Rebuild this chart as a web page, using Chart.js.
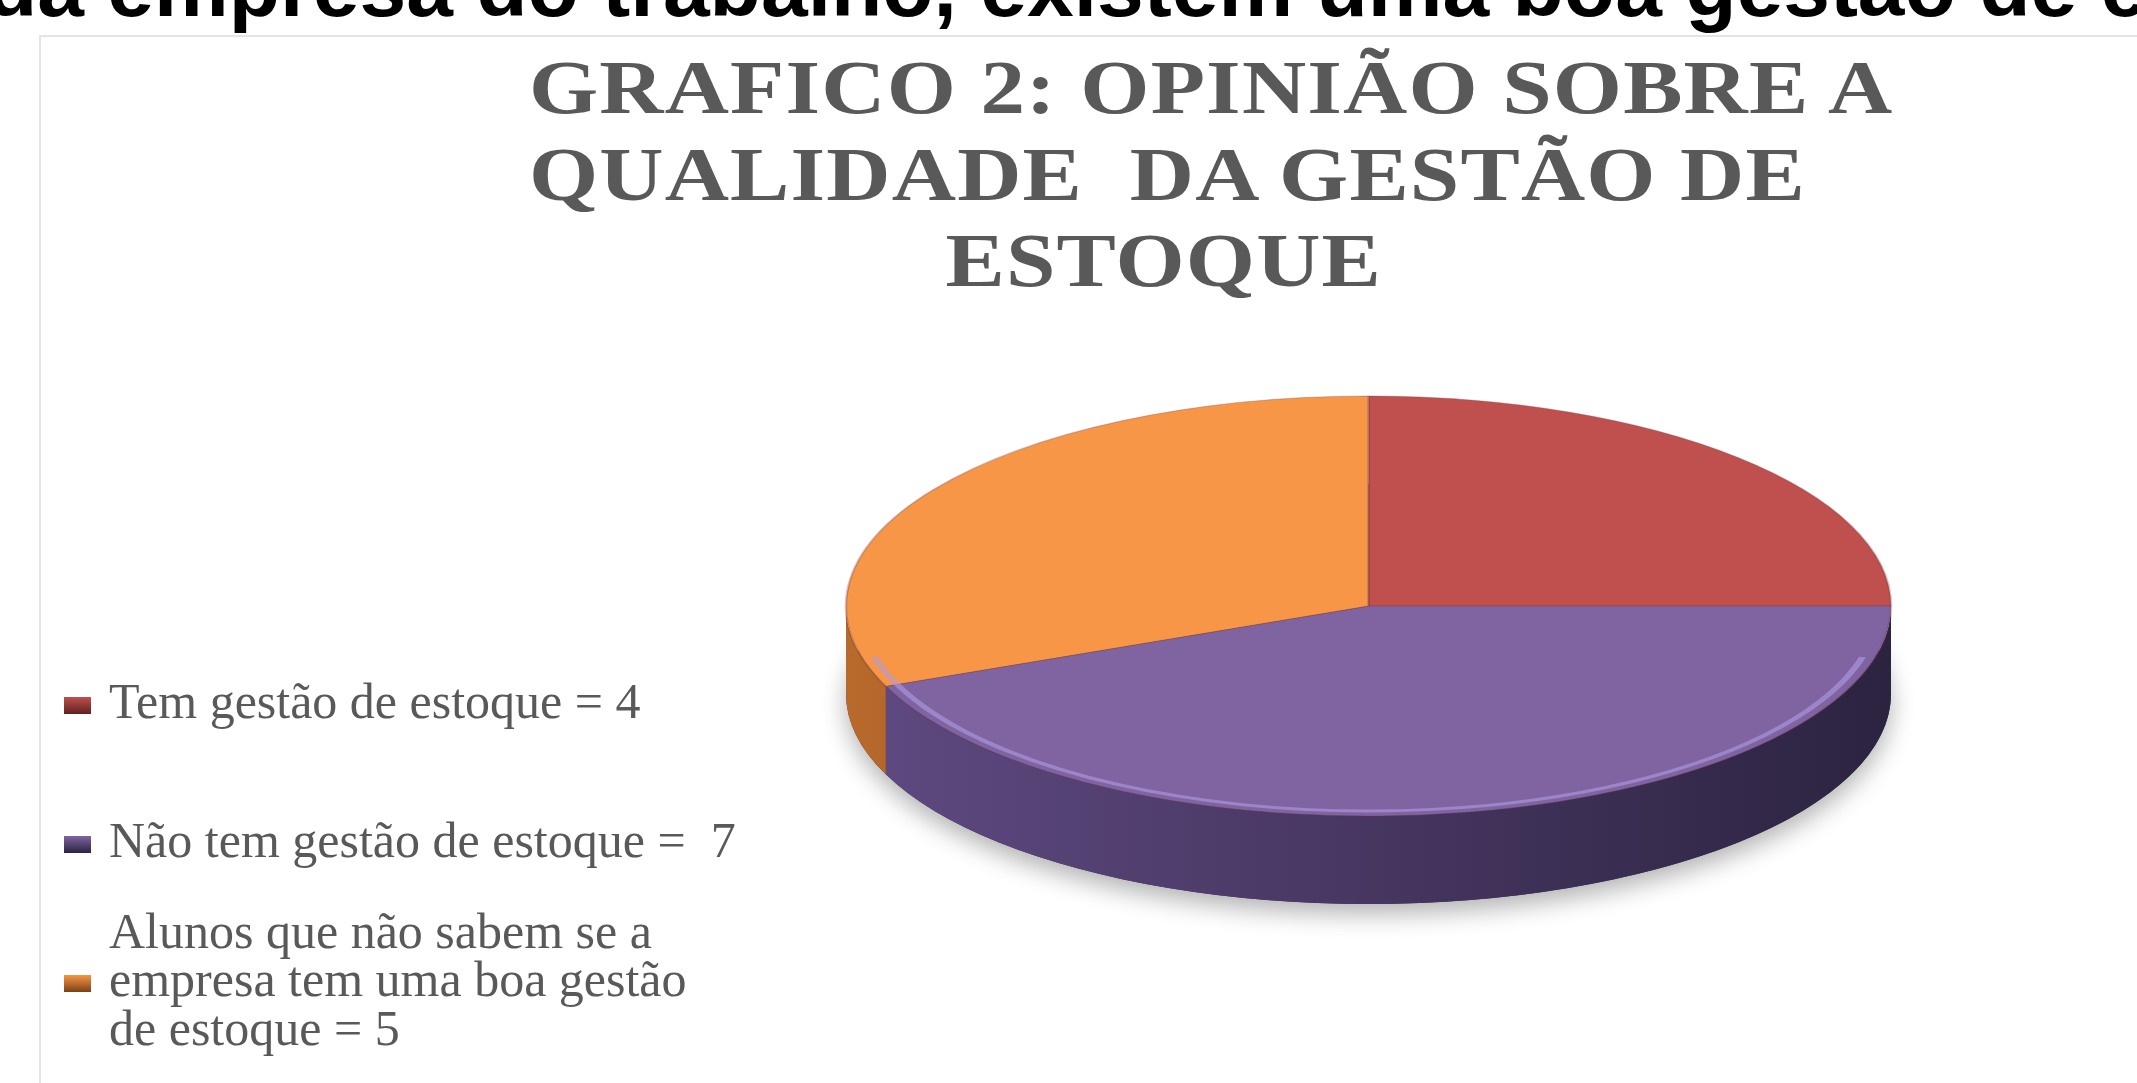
<!DOCTYPE html>
<html lang="pt">
<head>
  <meta charset="UTF-8">
  <title>Grafico 2 - Gestão de estoque</title>
  <script src="https://cdn.jsdelivr.net/npm/chart.js"></script>
  <style>
    html, body { margin: 0; padding: 0; background: #fff; }
    body { width: 2137px; height: 1083px; position: relative; overflow: hidden; }
    .heading {
      position: absolute; left: -14px; top: -55px; white-space: nowrap;
      font: bold 84px/84px "Liberation Sans", Arial, sans-serif; color: #000;
    }
    .frame {
      position: absolute; left: 39px; top: 35px; width: 2200px; height: 1200px;
      border: 2px solid #e4e4e4; box-sizing: border-box;
    }
    #pie { position: absolute; left: 0; top: 0; }
    .title {
      position: absolute; left: 529px; top: 44px; color: #595959;
      font: bold 76px/86.5px "Liberation Serif", "Times New Roman", serif;
      letter-spacing: 1px; white-space: pre;
      transform: scaleX(1.17); transform-origin: 0 0;
    }
    .title .l3 { padding-left: 356px; }
    .legend { position: absolute; left: 64px; top: 632px; color: #595959;
      font: 50px/48.5px "Liberation Serif", "Times New Roman", serif; }
    .legend .item { height: 139px; display: flex; align-items: center; }
    .legend .key { width: 27px; height: 17px; margin-right: 18px; flex: none; transform: translateY(4px); }
    .legend .text { white-space: pre; }
  </style>
</head>
<body>

  <div class="heading">da empresa do trabalho, existem uma boa gestão de estoque?</div>
  <div class="frame"></div>
  <canvas id="pie" width="2137" height="1083"></canvas>

  <div class="title" id="title"></div>
  <div class="legend" id="legend"></div>

  <script>
    // data
    const titleLines = ['GRAFICO 2: OPINIÃO SOBRE A', 'QUALIDADE  DA GESTÃO DE', 'ESTOQUE'];
    const labels = [
      ['Tem gestão de estoque = 4'],
      ['Não tem gestão de estoque =  7'],
      ['Alunos que não sabem se a', 'empresa tem uma boa gestão', 'de estoque = 5']
    ];
    const values = [4, 7, 5];
    const colors = ['#c0504d', '#8064a2', '#f79646'];
    const sideColors = [['#8d3532', '#5e2220'], ['#604a82', '#2c2340'], ['#b8692c', '#7a4218']];

    const DEPTH = 88;

    const titleEl = document.getElementById('title');
    titleLines.forEach(function(line, i) {
      const d = document.createElement('div');
      d.className = 'l' + (i + 1);
      d.textContent = line;
      titleEl.appendChild(d);
    });

    // legend built from the same arrays
    const legendEl = document.getElementById('legend');
    labels.forEach(function(label, i) {
      const item = document.createElement('div');
      item.className = 'item';
      const key = document.createElement('span');
      key.className = 'key';
      key.style.background = 'linear-gradient(' + colors[i] + ', ' + sideColors[i][1] + ')';
      const text = document.createElement('span');
      text.className = 'text';
      text.textContent = label.join('\n');
      item.appendChild(key);
      item.appendChild(text);
      legendEl.appendChild(item);
    });

    // squash the round pie into an ellipse and give it a side wall
    const tiltPlugin = {
      id: 'tilt',
      beforeDatasetsDraw(chart) {
        const ctx = chart.ctx;
        const area = chart.chartArea;
        const arcs = chart.getDatasetMeta(0).data;
        const x = arcs[0].x, y = arcs[0].y, R = arcs[0].outerRadius;
        const rx = area.width / 2;
        const ry = (area.height - DEPTH) / 2;
        const sx = rx / R, sy = ry / R;
        const down = DEPTH / sy;

        ctx.save();
        ctx.translate(area.left + rx, area.top + ry);
        ctx.scale(sx, sy);
        ctx.translate(-x, -y);

        // soft shadow under the pie
        ctx.save();
        ctx.shadowColor = 'rgba(0,0,0,0.3)';
        ctx.shadowBlur = 24;
        ctx.shadowOffsetY = 10;
        ctx.fillStyle = '#3a2e52';
        ctx.beginPath();
        ctx.arc(x, y + down, R, 0, Math.PI * 2);
        ctx.fill();
        ctx.restore();

        // front wall of each slice (only the part facing us)
        arcs.forEach(function(arc, i) {
          const a0 = Math.max(arc.startAngle, 0);
          const a1 = Math.min(arc.endAngle, Math.PI);
          if (a1 <= a0) return;
          const g = ctx.createLinearGradient(x - R, 0, x + R, 0);
          g.addColorStop(0, sideColors[i][0]);
          g.addColorStop(1, sideColors[i][1]);
          ctx.fillStyle = g;
          ctx.beginPath();
          ctx.arc(x, y, R, a0, a1);
          ctx.arc(x, y + down, R, a1, a0, true);
          ctx.closePath();
          ctx.fill();
        });
      },
      afterDatasetsDraw(chart) {
        const ctx = chart.ctx;
        const arc = chart.getDatasetMeta(0).data[0];
        // light rim along the front edge of the top face
        ctx.strokeStyle = 'rgba(175,155,225,0.6)';
        ctx.lineWidth = 3.5;
        ctx.beginPath();
        ctx.arc(arc.x, arc.y, arc.outerRadius - 6, Math.PI * 0.08, Math.PI * 0.92);
        ctx.stroke();
        ctx.restore();
      }
    };

    const ctx = document.getElementById('pie').getContext('2d');
    const pieChart = new Chart(ctx, {
      type: 'pie',
      data: {
        labels: labels,
        datasets: [{
          data: values,
          backgroundColor: colors,
          borderColor: 'rgba(110,55,70,0.3)',
          borderWidth: 1.2
        }]
      },
      options: {
        responsive: false,
        animation: false,
        layout: { padding: { left: 846, right: 246, top: 396, bottom: 179 } },
        plugins: {
          legend: { display: false },
          title: { display: false },
          tooltip: { enabled: false }
        }
      },
      plugins: [tiltPlugin]
    });
  </script>

</body>
</html>
